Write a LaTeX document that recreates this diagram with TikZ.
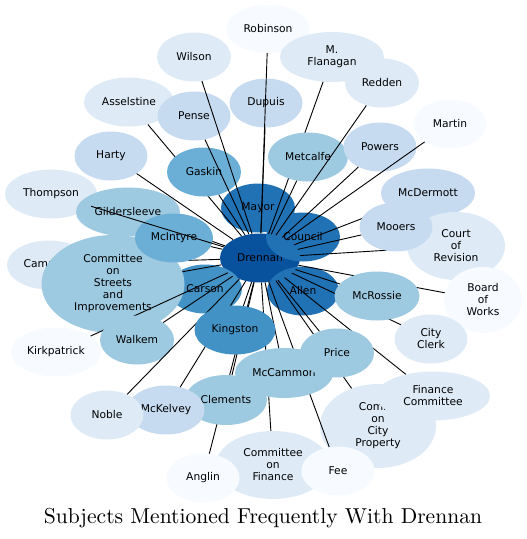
\documentclass[tikz,border=0pt]{standalone}
\usepackage{fontspec}
\usepackage{tikz}
\usetikzlibrary{positioning,shapes.geometric}
\newfontfamily\lblfont{DejaVu Sans}
\newfontfamily\ttlfont{lmroman10-regular.otf}
\definecolor{drhub}{HTML}{08519C}
\definecolor{drhot}{HTML}{2171B5}
\definecolor{drwarm}{HTML}{4292C6}
\definecolor{drmid}{HTML}{6BAED6}
\definecolor{drcool}{HTML}{9ECAE1}
\definecolor{drpale}{HTML}{C6DBEF}
\definecolor{drfaint}{HTML}{DEEBF7}
\definecolor{drghost}{HTML}{F7FBFF}
\tikzset{
  topic/.style={ellipse,draw=none,inner sep=0pt,align=center,minimum width=73pt,minimum height=49pt,font=\lblfont\fontsize{10.7}{12}\selectfont},
  hub/.style={topic,fill=drhub},
  hot/.style={topic,fill=drhot},
  warm/.style={topic,fill=drwarm},
  mid/.style={topic,fill=drmid},
  cool/.style={topic,fill=drcool},
  pale/.style={topic,fill=drpale},
  faint/.style={topic,fill=drfaint},
  ghost/.style={topic,fill=drghost},
  tie/.style={draw=black,line width=0.9pt},
}
\begin{document}
\begin{tikzpicture}[x=1pt,y=-1pt]
  \useasboundingbox (0,0) rectangle (527,539);
  \node[hub,minimum width=80pt] (drennan) at (260,258) {Drennan};
  \node[hot,minimum width=74pt] (mayor) at (258,208) {Mayor};
  \node[hot,minimum width=72pt] (allen) at (303,291) {Allen};
  \node[warm,minimum width=74pt] (carson) at (205,289) {Carson};
  \node[hot,minimum width=74pt] (council) at (303,237) {Council};
  \node[faint,minimum width=84pt] (campbell) at (49,265) {Campbell};
  \draw[tie] (drennan) -- (campbell);
  \node[faint,minimum width=92pt] (thompson) at (51,194) {Thompson};
  \node[cool,minimum width=104pt] (gilders) at (128,212) {Gildersleeve};
  \draw[tie] (drennan) -- (gilders);
  \node[cool,minimum width=143pt,minimum height=98pt] (streets) at (113,284) {Committee\\on\\Streets\\and\\Improvements};
  \node[mid,minimum width=78pt] (mcintyre) at (174,238) {McIntyre};
  \draw[tie] (drennan) -- (mcintyre);
  \draw[tie] (drennan) -- (thompson);
  \draw[tie] (drennan) -- (streets);
  \node[ghost,minimum width=90pt] (kirkpat) at (56,352) {Kirkpatrick};
  \draw[tie] (drennan) -- (kirkpat);
  \node[cool,minimum width=74pt] (walkem) at (137,340) {Walkem};
  \draw[tie] (drennan) -- (walkem);
  \node[pale] (harty) at (111,156) {Harty};
  \draw[tie] (drennan) -- (harty);
  \node[faint,minimum width=90pt] (assel) at (129,102) {Asselstine};
  \draw[tie] (drennan) -- (assel);
  \node[mid,minimum width=74pt] (gaskin) at (204,172) {Gaskin};
  \draw[tie] (drennan) -- (gaskin);
  \node[pale] (pense) at (194,116) {Pense};
  \draw[tie] (drennan) -- (pense);
  \node[faint,minimum width=74pt] (wilson) at (194,57) {Wilson};
  \draw[tie] (drennan) -- (wilson);
  \node[pale] (dupuis) at (266,103) {Dupuis};
  \draw[tie] (drennan) -- (dupuis);
  \node[ghost,minimum width=84pt,minimum height=48pt] (robinson) at (268,29) {Robinson};
  \draw[tie] (drennan) -- (robinson);
  \node[faint,minimum width=104pt,minimum height=50pt] (flanagan) at (332,57) {M.\\Flanagan};
  \draw[tie] (drennan) -- (flanagan);
  \node[cool,minimum width=80pt] (metcalfe) at (308,157) {Metcalfe};
  \draw[tie] (drennan) -- (metcalfe);
  \node[faint,minimum width=74pt] (redden) at (382,83) {Redden};
  \draw[tie] (drennan) -- (redden);
  \node[pale] (powers) at (380,147) {Powers};
  \draw[tie] (drennan) -- (powers);
  \node[ghost] (martin) at (450,124) {Martin};
  \draw[tie] (drennan) -- (martin);
  \node[pale,minimum width=94pt] (mcdermott) at (428,193) {McDermott};
  \draw[tie] (drennan) -- (mcdermott);
  \node[faint,minimum width=98pt,minimum height=68pt] (court) at (456,246) {Court\\of\\Revision};
  \draw[tie] (drennan) -- (court);
  \node[pale] (mooers) at (396,227) {Mooers};
  \draw[tie] (drennan) -- (mooers);
  \node[ghost,minimum width=78pt,minimum height=66pt] (board) at (483,300) {Board\\of\\Works};
  \draw[tie] (drennan) -- (board);
  \node[faint] (clerk) at (431,339) {City\\Clerk};
  \draw[tie] (drennan) -- (clerk);
  \node[cool,minimum width=85pt] (mcrossie) at (377,296) {McRossie};
  \draw[tie] (drennan) -- (mcrossie);
  \node[faint,minimum width=116pt,minimum height=84pt] (property) at (378,426) {Comm.\\on\\City\\Property};
  \draw[tie] (drennan) -- (property);
  \node[faint,minimum width=114pt] (fincomm) at (433,396) {Finance\\Committee};
  \draw[tie] (drennan) -- (fincomm);
  \node[faint,minimum width=114pt,minimum height=68pt] (finance) at (273,465) {Committee\\on\\Finance};
  \draw[tie] (drennan) -- (finance);
  \node[ghost] (fee) at (338,471) {Fee};
  \draw[tie] (drennan) -- (fee);
  \node[cool,minimum width=98pt,minimum height=50pt] (mccammon) at (284,373) {McCammon};
  \draw[tie] (drennan) -- (mccammon);
  \node[cool,minimum width=74pt] (price) at (337,353) {Price};
  \draw[tie] (drennan) -- (price);
  \node[ghost] (anglin) at (203,478) {Anglin};
  \draw[tie] (drennan) -- (anglin);
  \node[cool,minimum width=82pt,minimum height=50pt] (clements) at (226,400) {Clements};
  \draw[tie] (drennan) -- (clements);
  \node[pale,minimum width=77pt] (mckelvey) at (166,410) {McKelvey};
  \draw[tie] (drennan) -- (mckelvey);
  \node[faint] (noble) at (107,415) {Noble};
  \draw[tie] (drennan) -- (noble);
  \node[warm,minimum width=81pt] (kingston) at (235,330) {Kingston};
  \draw[tie] (drennan) -- (kingston);
  \node[anchor=base,font=\ttlfont\fontsize{21.6}{24}\selectfont] (title) at (263,523) {Subjects Mentioned Frequently With Drennan};
\end{tikzpicture}
\end{document}
